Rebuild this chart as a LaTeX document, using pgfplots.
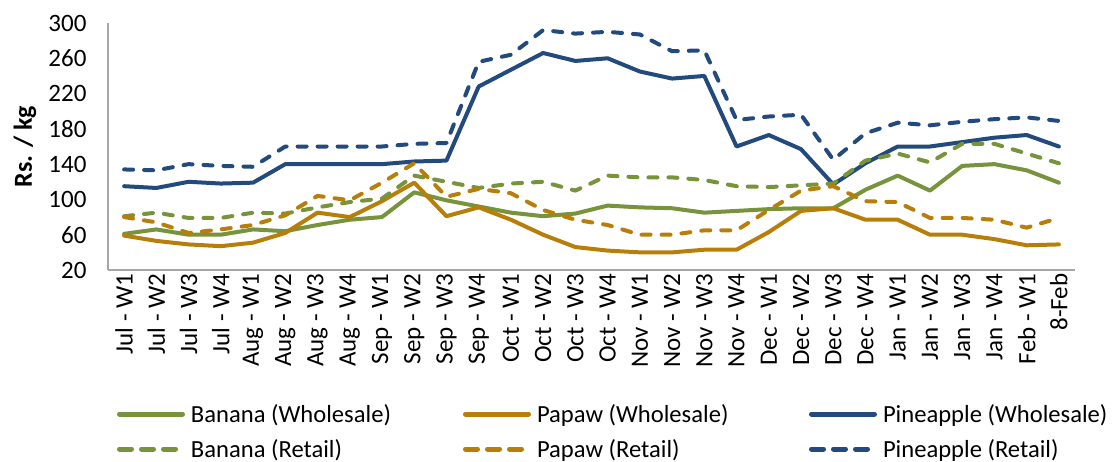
\documentclass[border=0pt]{standalone}
\usepackage{fontspec}
\setmainfont{Carlito}
\usepackage{pgfplots}
\usepackage{pgfplotstable}
\pgfplotsset{compat=1.18}
\definecolor{cgreen}{RGB}{119,147,60}
\definecolor{corange}{RGB}{184,126,10}
\definecolor{cblue}{RGB}{35,74,125}
\definecolor{axgray}{RGB}{166,166,166}
\pgfplotstableread{
x BW BR PW PR AW AR
0 61 81 59 80 115 134
1 66 85 53 74 113 133
2 60 79 49 62 120 140
3 60 79 47 66 118 138
4 66 85 51 71 119 137
5 64 84 62 82 140 160
6 71 91 85 104 140 160
7 77 97 80 99 140 160
8 80 101 98 119 140 160
9 108 127 119 141 143 163
10 99 120 81 103 144 164
11 92 113 91 112 228 256
12 85 118 77 107 247 264
13 81 120 60 88 266 292
14 84 110 46 77 257 288
15 93 127 42 71 260 290
16 91 125 40 60 245 287
17 90 125 40 60 237 268
18 85 122 43 65 240 269
19 87 115 43 65 160 190
20 89 114 63 88 173 194
21 90 116 87 110 157 196
22 90 118 90 115 117 145
23 111 144 77 98 141 175
24 127 152 77 97 160 187
25 110 142 60 79 160 184
26 138 163 60 79 165 188
27 140 163 55 77 170 191
28 133 152 48 68 173 193
29 119 141 49 79 160 189
}\datatable
\begin{document}
\begin{tikzpicture}
\useasboundingbox (-108pt,-191pt) rectangle (1007pt,270pt);
\begin{axis}[
  scale only axis, width=967pt, height=247pt,
  xmin=-0.5, xmax=29.5, ymin=20, ymax=300,
  ytick={20,60,...,300},
  xtick={0,...,29},
  xticklabels={Jul - W1,Jul - W2,Jul - W3,Jul - W4,Aug - W1,Aug - W2,Aug - W3,Aug - W4,Sep - W1,Sep - W2,Sep - W3,Sep - W4,Oct - W1,Oct - W2,Oct - W3,Oct - W4,Nov - W1,Nov - W2,Nov - W3,Nov - W4,Dec - W1,Dec - W2,Dec - W3,Dec - W4,Jan - W1,Jan - W2,Jan - W3,Jan - W4,Feb - W1,8-Feb},
  axis lines=left,
  axis line style={-, draw=axgray, line width=1.3pt},
  major tick length=0pt,
  /pgf/number format/assume math mode=true,
  tick label style={font=\fontsize{25}{30}\selectfont, text=black},
  xticklabel style={rotate=90, anchor=east},
  yticklabel style={anchor=east, xshift=-18pt},
  ylabel={Rs. / kg},
  ylabel style={font=\fontsize{26}{30}\selectfont\bfseries, at={(axis description cs:-0.0858,0.5)}, anchor=center},
  legend columns=3,
  legend cell align=left,
  legend style={at={(axis description cs:0,0)}, anchor=north west, xshift=9pt, yshift=-134pt,
    draw=none, fill=none, inner sep=0pt, outer sep=0pt,
    font=\fontsize{24.6}{29}\selectfont,
    nodes={inner sep=0pt, text height=18pt, text depth=6pt, anchor=base west},
    /tikz/every odd column/.append style={column sep=0pt},
    /tikz/every even column/.append style={column sep=0pt},
    row sep=11pt},
  legend image code/.code={\path[draw=none] (0pt,0pt) -- (74pt,0pt); \draw[#1, line width=5pt] (2.5pt,8pt) -- (65.5pt,8pt);},
  every axis plot/.append style={line width=4pt, line join=round, line cap=round},
  retail/.style={dash pattern=on 9pt off 11pt,
    legend image code/.code={\path[draw=none] (0pt,0pt) -- (74pt,0pt); \draw[##1, line width=5pt, dash pattern=on 12pt off 10pt] (2.5pt,8pt) -- (58.5pt,8pt);}},
]
\addplot[cgreen] table[x=x,y=BW]{\datatable};
\addlegendentry{\makebox[272pt][l]{Banana (Wholesale)}}
\addplot[corange] table[x=x,y=PW]{\datatable};
\addlegendentry{\makebox[272pt][l]{Papaw (Wholesale)}}
\addplot[cblue] table[x=x,y=AW]{\datatable};
\addlegendentry{Pineapple (Wholesale)}
\addplot[cgreen, retail] table[x=x,y=BR]{\datatable};
\addlegendentry{\makebox[272pt][l]{Banana (Retail)}}
\addplot[corange, retail] table[x=x,y=PR]{\datatable};
\addlegendentry{\makebox[272pt][l]{Papaw (Retail)}}
\addplot[cblue, retail] table[x=x,y=AR]{\datatable};
\addlegendentry{Pineapple (Retail)}
\end{axis}
\end{tikzpicture}
\end{document}
